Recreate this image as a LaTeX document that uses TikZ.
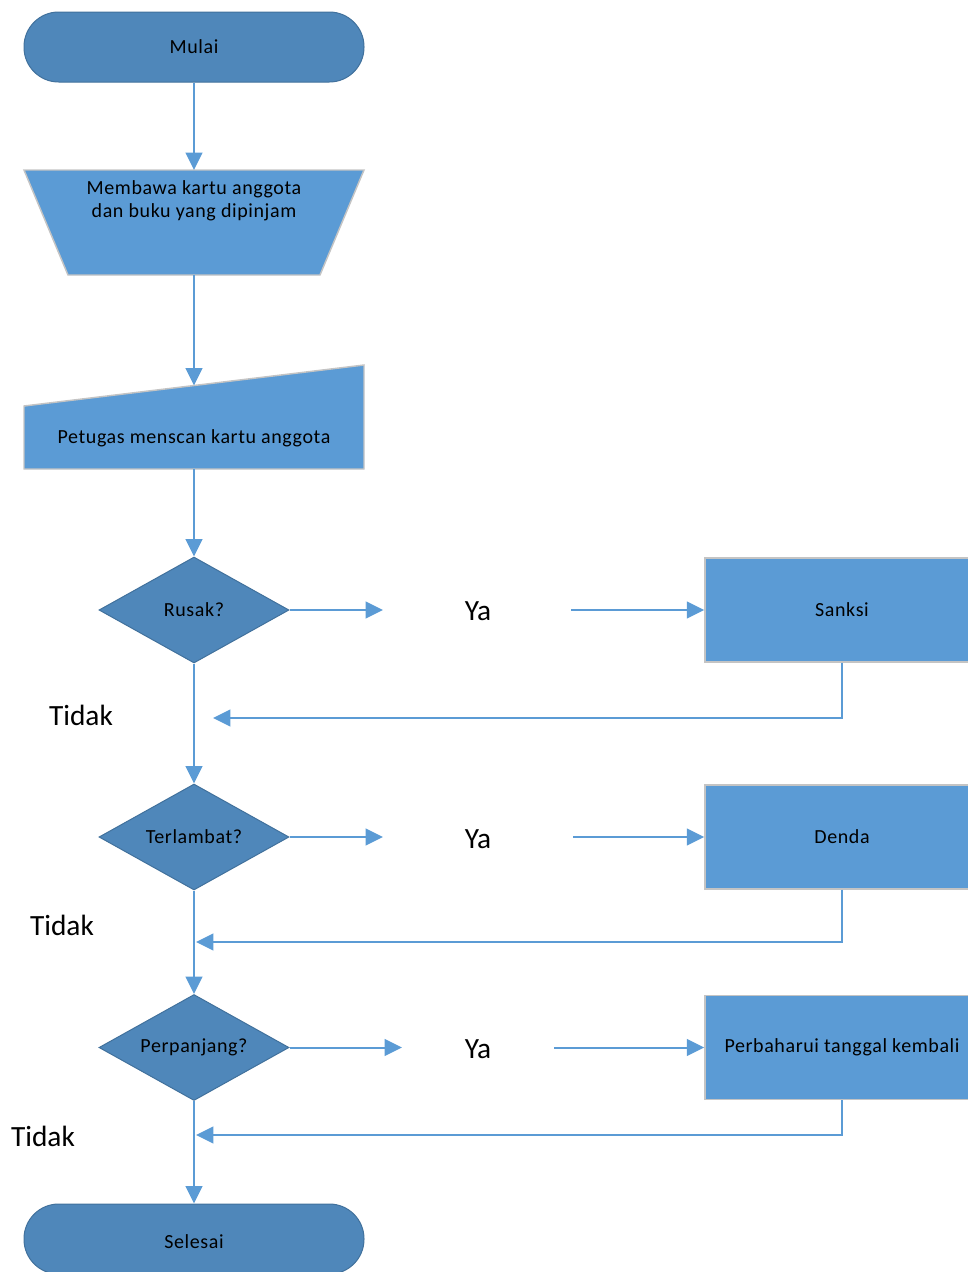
\documentclass[tikz,border=0pt]{standalone}
\usepackage{fontspec}
\setmainfont{Carlito}
\usetikzlibrary{arrows.meta,shapes.geometric,calc}
\definecolor{darkfill}{HTML}{4F87BA}
\definecolor{lightfill}{HTML}{5B9BD5}
\definecolor{darkedge}{HTML}{41719C}
\definecolor{boxedge}{HTML}{C4C4C4}
\definecolor{linecol}{HTML}{5B9BD5}
\newfontfamily\boxfont[LetterSpace=3]{Carlito}
\begin{document}
\begin{tikzpicture}[x=0.75pt,y=-0.75pt,
  txt/.style={font=\boxfont\fontsize{15}{17.5}\selectfont, text=black, align=center, inner sep=0pt},
  bigtxt/.style={font=\fontsize{22}{25}\selectfont, text=black, inner sep=0pt},
  term/.style={txt, rounded corners=26pt, fill=darkfill, draw=darkedge, line width=0.75pt, minimum width=255pt, minimum height=52.5pt},
  dia/.style={txt, diamond, aspect=1.79, fill=darkfill, draw=darkedge, line width=0.75pt, minimum width=142.5pt, minimum height=79.5pt},
  procbox/.style={txt, rectangle, fill=lightfill, draw=boxedge, line width=1.1pt, minimum width=205.5pt, minimum height=78pt},
  shapefill/.style={fill=lightfill, draw=boxedge, line width=1.1pt},
  arr/.style={draw=linecol, line width=1.5pt, -{Triangle[length=13pt,width=12.5pt]}}
]
\clip (0,0) rectangle (968,1272);
\useasboundingbox (0,0) rectangle (968,1272);

% start
\node[term] (mulai) at (194,47) {Mulai};

% manual operation (trapezoid)
\path[shapefill] (24,170) -- (364,170) -- (320,275) -- (68,275) -- cycle;
\coordinate (bawaT) at (194,170);
\coordinate (bawaB) at (194,275);
\node[txt] (bawa) at (194,200.5) {Membawa kartu anggota\\dan buku yang dipinjam};

% manual input
\path[shapefill] (24,406) -- (364,365) -- (364,469) -- (24,469) -- cycle;
\coordinate (scanT) at (194,385.5);
\coordinate (scanB) at (194,469);
\node[txt] (scan) at (194,438) {Petugas menscan kartu anggota};

% decisions
\node[dia] (rusak) at (194,610) {Rusak?};
\node[dia] (terlambat) at (194,837) {Terlambat?};
\node[dia] (perpanjang) at (194,1047.5) {Perpanjang?};

% process boxes
\node[procbox] (sanksi) at (842,610) {Sanksi};
\node[procbox] (denda) at (842,837) {Denda};
\node[procbox] (perbaharui) at (842,1047.5) {Perbaharui tanggal kembali};

% end
\node[term] (selesai) at (194,1239) {};
\node[txt] (selesaitxt) at (194,1242) {Selesai};

% Ya labels
\node[bigtxt] (ya1) at (478,611) {Ya};
\node[bigtxt] (ya2) at (478,839) {Ya};
\node[bigtxt] (ya3) at (478,1049) {Ya};

% Tidak labels
\node[bigtxt] (tidak1) at (81,715) {Tidak};
\node[bigtxt] (tidak2) at (62,925) {Tidak};
\node[bigtxt] (tidak3) at (43,1136) {Tidak};

% coordinates for connectors
\coordinate (ya1a) at (383,610);
\coordinate (ya1b) at (571,610);
\coordinate (ya2a) at (383,837);
\coordinate (ya2b) at (573,837);
\coordinate (ya3a) at (402,1047.5);
\coordinate (ya3b) at (554,1047.5);
\coordinate (ret1) at (213,718);
\coordinate (ret2) at (196,942);
\coordinate (ret3) at (196,1135);

% main flow
\draw[arr] (mulai.south) -- (bawaT);
\draw[arr] (bawaB) -- (scanT);
\draw[arr] (scanB) -- (rusak.north);
\draw[arr] (rusak.south) -- (terlambat.north);
\draw[arr] (terlambat.south) -- (perpanjang.north);
\draw[arr] (perpanjang.south) -- (selesai.north);

% Ya branches
\draw[arr] (rusak.east) -- (ya1a);
\draw[arr] (ya1b) -- (sanksi.west);
\draw[arr] (terlambat.east) -- (ya2a);
\draw[arr] (ya2b) -- (denda.west);
\draw[arr] (perpanjang.east) -- (ya3a);
\draw[arr] (ya3b) -- (perbaharui.west);

% returns
\draw[arr] (sanksi.south) |- (ret1);
\draw[arr] (denda.south) |- (ret2);
\draw[arr] (perbaharui.south) |- (ret3);
\end{tikzpicture}
\end{document}
